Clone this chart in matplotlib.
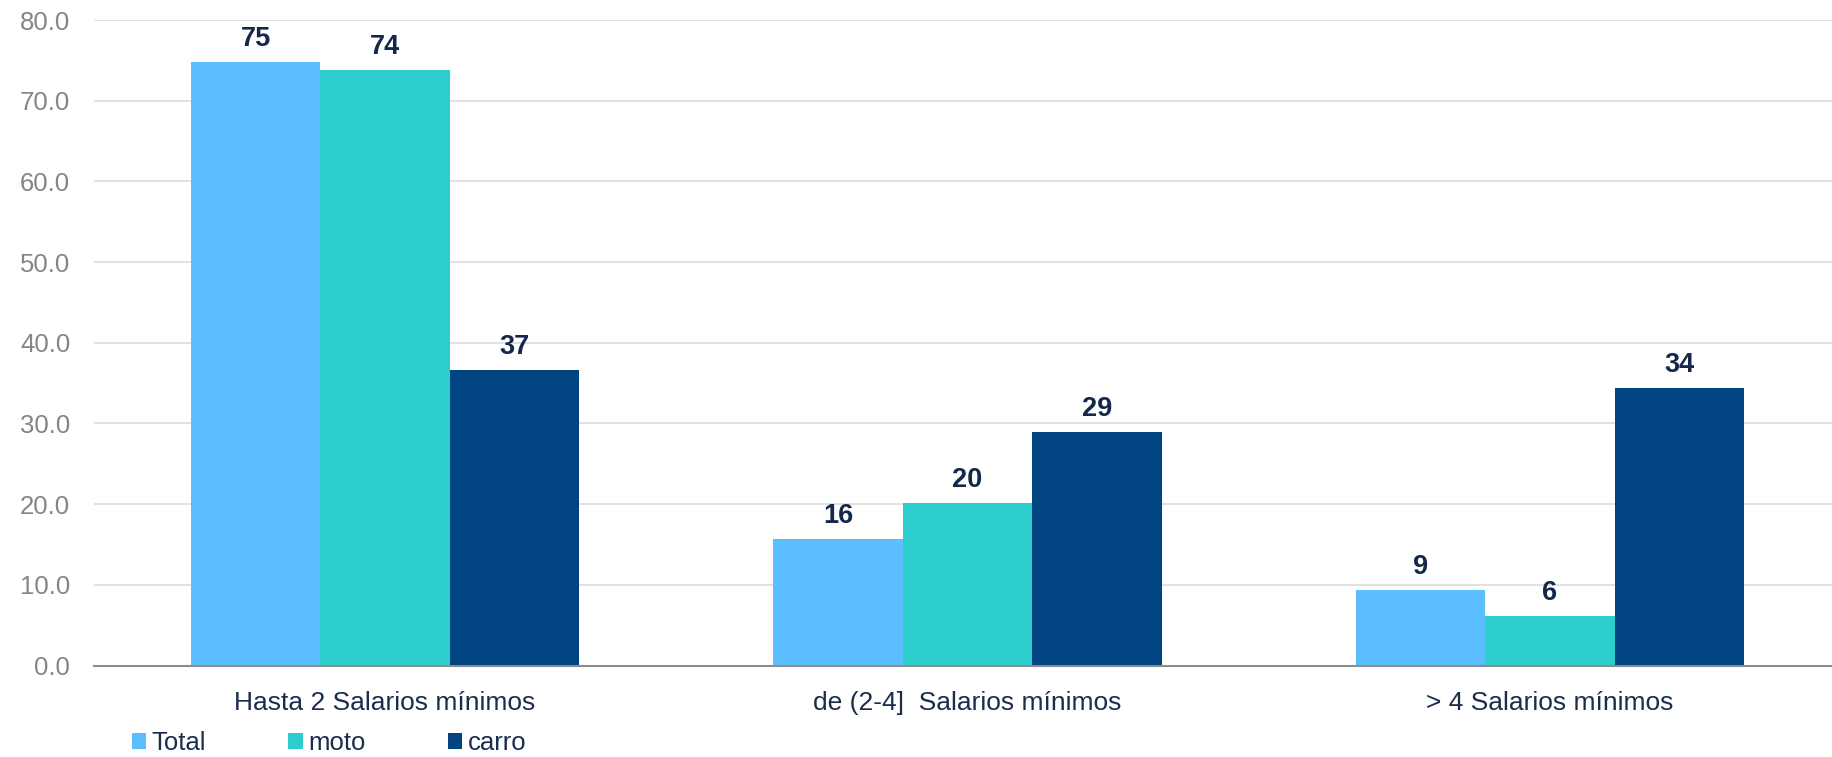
import matplotlib
matplotlib.use("Agg")
import matplotlib.pyplot as plt
from matplotlib.patches import Patch
import numpy as np

# Ingreso por rangos de salario mínimo, por tipo de vehículo (%)
categories = ["Hasta 2 Salarios mínimos", "de (2-4]  Salarios mínimos", "> 4 Salarios mínimos"]
series_names = ["Total", "moto", "carro"]
total_vals = [74.8, 15.7, 9.4]
moto_vals = [73.8, 20.2, 6.1]
carro_vals = [36.6, 29.0, 34.4]
y_ticks = [0, 10, 20, 30, 40, 50, 60, 70, 80]

colors = ["#5bbeff", "#2dcdcd", "#004481"]
label_color = "#13284a"
text_color = "#1b2d4d"
tick_gray = "#858585"

plt.rcParams["font.family"] = ["Liberation Sans", "DejaVu Sans"]

W, H = 1832, 757
fig = plt.figure(figsize=(W / 100, H / 100), dpi=100)
ax = fig.add_axes([93.75 / W, (H - 665.5) / H, 1747.5 / W, (665.5 - 20) / H])

x = np.arange(len(categories))
bw = 1 / 4.5
all_series = [total_vals, moto_vals, carro_vals]
for i, (vals, name, c) in enumerate(zip(all_series, series_names, colors)):
    bars = ax.bar(x + (i - 1) * bw, vals, width=bw, color=c, label=name,
                  edgecolor="none", zorder=3)
    for b, v in zip(bars, vals):
        ax.annotate(f"{v:.0f}", xy=(b.get_x() + b.get_width() / 2, v),
                    xytext=(0, 11.5), textcoords="offset points",
                    ha="center", va="baseline", fontsize=19.5, fontweight="bold",
                    color=label_color, zorder=4)

ax.set_xlim(-0.5, len(categories) - 0.5)
ax.set_ylim(0, 80)
ax.set_yticks(y_ticks)
ax.set_yticklabels([f"{t:.1f}" for t in y_ticks])
ax.set_xticks(x)
ax.set_xticklabels(categories)

ax.grid(axis="y", color="#d9d9d9", linewidth=1.1, zorder=0)
ax.set_axisbelow(True)
for s in ["top", "right", "left"]:
    ax.spines[s].set_visible(False)
ax.spines["bottom"].set_color("#8c8c8c")
ax.spines["bottom"].set_linewidth(1.5)
ax.spines["bottom"].set_zorder(5)

ax.tick_params(axis="y", length=0, pad=17, labelsize=18.5, labelcolor=tick_gray)
ax.tick_params(axis="x", length=0, pad=18.5, labelsize=19, labelcolor=text_color)

handles = [Patch(facecolor=c, edgecolor="none") for c in colors]
fig.legend(handles, series_names, loc="center left",
           bbox_to_anchor=(131.7 / W, 1 - 743 / H), ncol=3, frameon=False,
           fontsize=18.5, handlelength=0.55, handleheight=0.55,
           handletextpad=0.23, columnspacing=3.2, borderpad=0,
           borderaxespad=0, labelcolor=text_color)

fig.savefig("out.png", dpi=100)
